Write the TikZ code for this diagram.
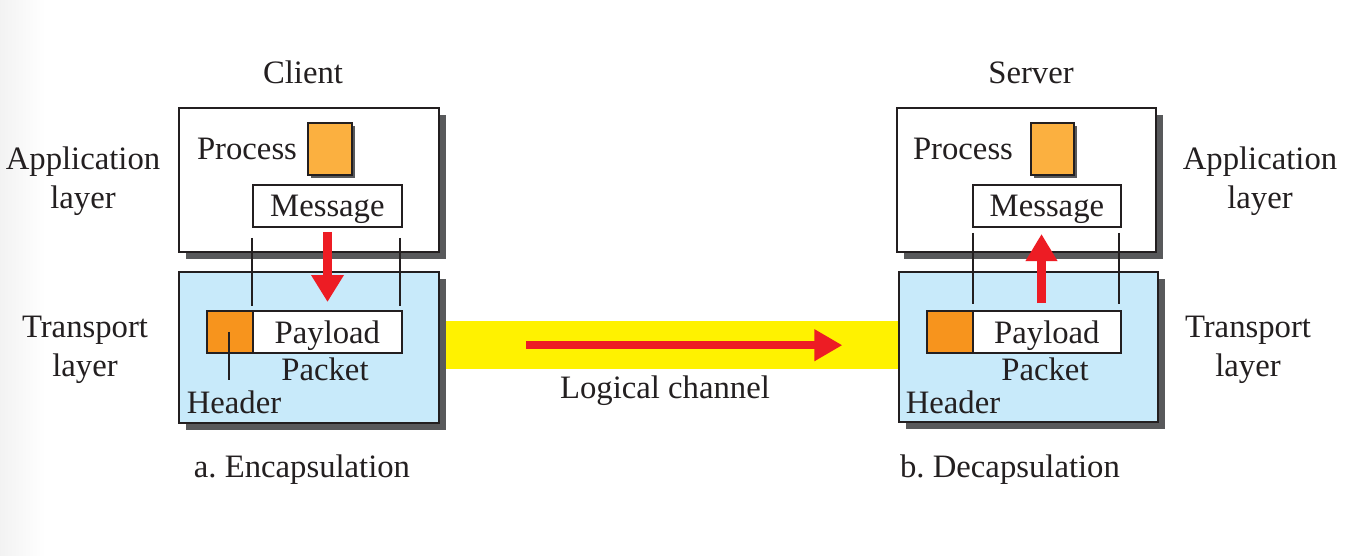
\documentclass[tikz,border=0pt]{standalone}
\usepackage{fontspec}
\setmainfont{Liberation Serif}
\usetikzlibrary{arrows.meta,shadows}
\definecolor{shadowgray}{HTML}{58595B}
\definecolor{lblue}{HTML}{C8EAFA}
\definecolor{procorange}{HTML}{FBB040}
\definecolor{hdrorange}{HTML}{F7941D}
\definecolor{chanyellow}{HTML}{FFF200}
\definecolor{arrowred}{HTML}{ED1C24}
\definecolor{txt}{HTML}{231F20}
\tikzset{
  layerbox/.style={draw=txt, line width=2pt, inner sep=0pt, anchor=north west,
    drop shadow={shadow xshift=7pt, shadow yshift=-7pt, fill=shadowgray, opacity=1}},
  procbox/.style={draw=txt, line width=1.8pt, fill=procorange, inner sep=0pt, anchor=north west,
    minimum width=44pt, minimum height=52pt,
    drop shadow={shadow xshift=3pt, shadow yshift=-3pt, fill=shadowgray, opacity=1}},
  msgbox/.style={draw=txt, line width=1.8pt, fill=white, inner sep=0pt, anchor=north west,
    minimum width=149pt, minimum height=42pt},
  hdrbox/.style={draw=txt, line width=1.8pt, fill=hdrorange, inner sep=0pt, anchor=north west,
    minimum width=46pt, minimum height=42pt},
  lbl/.style={inner sep=0pt, text=txt, text height=22.2pt, text depth=0pt},
  mlbl/.style={inner sep=0pt, text=txt, align=center, yshift=-3pt},
  thin/.style={draw=txt, line width=1.8pt},
  redarrow/.style={draw=arrowred, line width=9pt, -{Triangle[length=27pt,width=31pt]}},
}
\begin{document}
\frenchspacing
\begin{tikzpicture}[x=1pt,y=-1pt,font=\fontsize{32.7}{39}\selectfont]
\useasboundingbox (0,0) rectangle (1352,556);
\fill[white] (0,0) rectangle (1352,556);
\shade[left color=black!5, right color=white] (0,0) rectangle (45,556);

% logical channel band
\node[fill=chanyellow, inner sep=0pt, minimum width=460pt, minimum height=48pt, anchor=north west] (chan) at (438,321) {};

% ---------- Client ----------
\node[layerbox, fill=white, minimum width=260pt, minimum height=144pt] (appA) at (178,107) {};
\node[layerbox, fill=lblue, minimum width=260pt, minimum height=151pt] (trA) at (178,271) {};
\node[procbox] (procA) at (307,122) {};
\node[msgbox] (msgA) at (252,184) {};
\node[lbl] at (msgA.center) {Message};
\node[lbl] (procAt) at (247,148) {Process};
\node[hdrbox] (hdrA) at (206,310) {};
\node[msgbox] (payA) at (252,310) {};
\node[lbl] at (payA.center) {Payload};
\node[lbl] (pktA) at (325,369) {Packet};
\node[lbl] (hdrAt) at (234,402) {Header};
\draw[thin] ([yshift=-10pt]msgA.south west) -- ([yshift=4pt]payA.north west);
\draw[thin] ([xshift=-3pt,yshift=-10pt]msgA.south east) -- ([xshift=-3pt,yshift=4pt]payA.north east);
\draw[thin] ([xshift=-1pt]hdrA.center) -- ++(0,48);
\coordinate (dA1) at (327.5,232);
\coordinate (dA2) at (327.5,302);
\draw[redarrow] (dA1) -- (dA2);

\node[lbl] (client) at (303,72) {Client};
\node[mlbl] (applA) at (83,178) {Application\\layer};
\node[mlbl] (transA) at (85,347) {Transport\\layer};
\node[lbl] (capA) at (302,466) {a. Encapsulation};

% ---------- Server ----------
\node[layerbox, fill=white, minimum width=259pt, minimum height=144pt] (appB) at (896,107) {};
\node[layerbox, fill=lblue, minimum width=259pt, minimum height=150pt] (trB) at (898,271) {};
\node[procbox, minimum width=43pt] (procB) at (1030,122) {};
\node[msgbox, minimum width=148pt] (msgB) at (972,184) {};
\node[lbl] at (msgB.center) {Message};
\node[lbl] (procBt) at (963,148) {Process};
\node[hdrbox] (hdrB) at (926,310) {};
\node[msgbox, minimum width=148pt] (payB) at (972,310) {};
\node[lbl] at (payB.center) {Payload};
\node[lbl] (pktB) at (1045,369) {Packet};
\node[lbl] (hdrBt) at (953,402) {Header};
\draw[thin] ([xshift=1pt,yshift=-5pt]msgB.south west) -- ([xshift=1pt,yshift=6pt]payB.north west);
\draw[thin] ([xshift=-3pt,yshift=-5pt]msgB.south east) -- ([xshift=-3pt,yshift=6pt]payB.north east);
\coordinate (uB1) at (1041.5,303);
\coordinate (uB2) at (1041.5,234);
\draw[redarrow, -{Triangle[length=27pt,width=30pt]}] (uB1) -- (uB2);

\node[lbl] (server) at (1031,72) {Server};
\node[mlbl] (applB) at (1260,178) {Application\\layer};
\node[mlbl] (transB) at (1248,347) {Transport\\layer};
\node[lbl] (capB) at (1010,466) {b. Decapsulation};

% channel arrow and label
\draw[draw=arrowred, line width=8pt, -{Triangle[length=28pt,width=30pt]}] ([xshift=88pt]chan.west) -- ([xshift=-56pt]chan.east);
\node[lbl] (chanlbl) at (665,387) {Logical channel};
\end{tikzpicture}
\end{document}
